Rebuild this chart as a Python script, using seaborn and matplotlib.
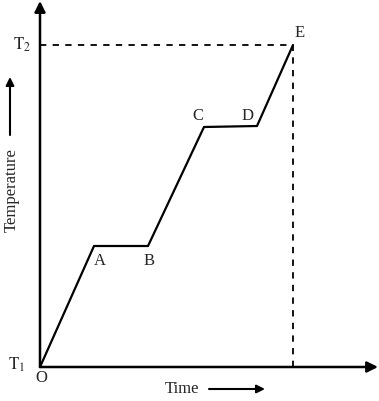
"""
Heating curve: temperature vs time with two plateaus (A-B, C-D).
"""

import matplotlib
matplotlib.use("Agg")
import matplotlib.pyplot as plt
import seaborn as sns
import pandas as pd

# points along the curve (arbitrary units)
point_labels = ["O", "A", "B", "C", "D", "E"]
time_vals = [0, 54, 108, 164, 217, 253]
temp_vals = [0, 121, 121, 240, 241, 322]

# label offsets in pixels from each point
label_offsets = [(1, -11), (6, -15), (1, -15), (-6, 11), (-9, 10), (7, 12)]

df = pd.DataFrame({"time": time_vals, "temp": temp_vals})

sns.set_theme(style="white")
plt.rcParams["font.family"] = ["Liberation Serif", "DejaVu Serif"]
plt.rcParams["mathtext.fontset"] = "stix"

fig = plt.figure(figsize=(3.79, 4.01), dpi=100)
ax = fig.add_axes([0, 0, 1, 1])
ax.set_xlim(-40, 339)
ax.set_ylim(-34, 367)
ax.axis("off")

sns.lineplot(data=df, x="time", y="temp", color="black", lw=1.6,
             sort=False, ax=ax)

# dashed guides to T2 and end time
t_end, temp_max = time_vals[-1], temp_vals[-1]
ax.plot([0, t_end], [temp_max, temp_max], ls=(0, (3.5, 3.5)), color="black", lw=1.3)
ax.plot([t_end, t_end], [0, temp_max], ls=(0, (3.5, 3.5)), color="black", lw=1.3)

# axes with arrowheads
arrow = dict(arrowstyle="-|>", color="black", lw=1.8, mutation_scale=16,
             shrinkA=0, shrinkB=0)
ax.annotate("", xy=(0, 366), xytext=(0, 0), arrowprops=arrow)
ax.annotate("", xy=(338, 0), xytext=(0, 0), arrowprops=arrow)

for lab, t, y, off in zip(point_labels, time_vals, temp_vals, label_offsets):
    ax.annotate(lab, xy=(t, y), xytext=off, textcoords="offset pixels",
                ha="center", va="center", fontsize=12)

ax.text(-18, temp_max, r"$\mathrm{T_2}$", ha="center", va="center", fontsize=12)
ax.text(-23, 2, r"$\mathrm{T_1}$", ha="center", va="center", fontsize=12)

ax.text(142, -22, "Time", ha="center", va="center", fontsize=12)
small = dict(arrowstyle="-|>", color="black", lw=1.5, mutation_scale=12,
             shrinkA=0, shrinkB=0)
ax.annotate("", xy=(225, -22), xytext=(169, -22), arrowprops=small)

ax.text(-28, 177, "Temperature", rotation=90, ha="center", va="center", fontsize=12)
ax.annotate("", xy=(-30, 290), xytext=(-30, 232), arrowprops=small)

fig.savefig("out.png", dpi=100)
